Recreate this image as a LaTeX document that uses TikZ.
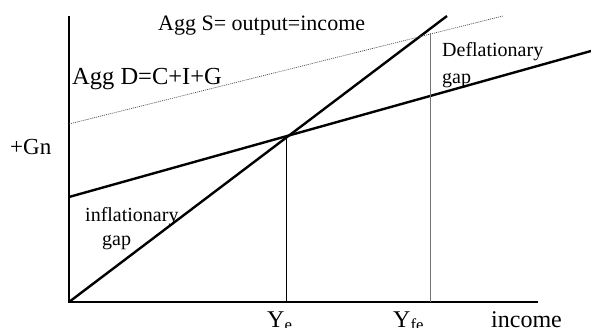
\documentclass[tikz,border=0pt]{standalone}
\usepackage{fontspec}
\setmainfont{Liberation Serif}
\usepackage{tikz}

\begin{document}
\begin{tikzpicture}[x=1pt, y=-1pt,
				axis/.style={line width=2.8pt, line cap=butt},
				curve/.style={line width=2.4pt},
				guide/.style={line width=0.8pt},
				dotline/.style={line width=0.7pt, color=black!70, dash pattern=on 1pt off 1pt},
				lbl/.style={inner sep=0pt, anchor=base west, font=\fontsize{23}{27}\selectfont},
				small/.style={inner sep=0pt, anchor=base west, font=\fontsize{20}{24}\selectfont}
			]
			\useasboundingbox (0,0) rectangle (591,328);

			\coordinate (origin) at (69,302);
			\coordinate (ytop) at (69,16);
			\coordinate (xend) at (538,302);
			\coordinate (send) at (447,16);
			\coordinate (dstart) at (69,197);
			\coordinate (dend) at (591,51);
			\coordinate (gstart) at (69,124);
			\coordinate (gend) at (503,16);
			\coordinate (ye) at (286,302);
			\coordinate (yetop) at (286,138);
			\coordinate (yfe) at (430,302);
			\coordinate (yfetop) at (430,33);

			\draw[axis] (ytop) -- (origin) -- (xend);
			\draw[curve] (origin) -- (send);
			\draw[curve] (dstart) -- (dend);
			\draw[dotline] (gstart) -- (gend);
			\draw[guide] (ye) -- (yetop);
			\draw[guide, color=black!55] (yfe) -- (yfetop);

			\node[lbl, font=\fontsize{22}{26}\selectfont] (aggs) at (158,31) {Agg S= output=income};
			\node[lbl, font=\fontsize{24.5}{28}\selectfont] (aggd) at (72,85) {Agg D=C+I+G};
			\node[lbl] (gn) at (10,155) {+Gn};
			\node[small] (infl) at (85,222) {inflationary};
			\node[small] (inflgap) at (102,246) {gap};
			\node[small] (defl) at (442,57) {Deflationary};
			\node[small] (deflgap) at (442,84) {gap};
			\node[lbl, font=\fontsize{24}{28}\selectfont] (yelbl) at (267,327) {Y\textsubscript{e}};
			\node[lbl, font=\fontsize{24}{28}\selectfont] (yfelbl) at (393,327) {Y\textsubscript{fe}};
			\node[lbl, font=\fontsize{24}{28}\selectfont] (inc) at (491,327) {income};
		\end{tikzpicture}
\end{document}
